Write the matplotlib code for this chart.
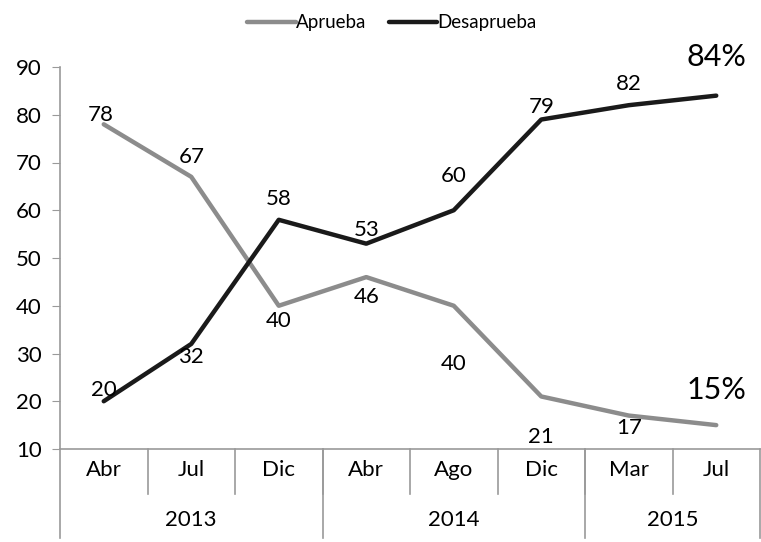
import matplotlib.pyplot as plt
import matplotlib.transforms as mtransforms

plt.rcParams['font.family'] = ['Lato', 'DejaVu Sans']

# Data
months = ['Abr', 'Jul', 'Dic', 'Abr', 'Ago', 'Dic', 'Mar', 'Jul']
years = ['2013', '2014', '2015']
year_counts = [3, 3, 2]
aprueba = [78, 67, 40, 46, 40, 21, 17, 15]
desaprueba = [20, 32, 58, 53, 60, 79, 82, 84]

# label offsets in pixels (dy), style only
ap_dy = [9, 20, -15, -20, -58, -41, -12, 35]
de_dy = [11, -13, 21, 14, 34, 13, 21, 39]

gray = '#8c8c8c'
black = '#1a1a1a'
axis_gray = '#9a9a9a'
fs_main = 16

fig = plt.figure(figsize=(7.61, 5.42), dpi=100)
ax = fig.add_axes([60 / 761, 93 / 542, 700 / 761, 382 / 542])

x = list(range(len(months)))
ax.plot(x, aprueba, color=gray, lw=3.2, solid_capstyle='round', label='Aprueba')
ax.plot(x, desaprueba, color=black, lw=3.2, solid_capstyle='round', label='Desaprueba')

ax.set_xlim(-0.5, len(months) - 0.5)
ax.set_ylim(10, 90)
ax.set_yticks(range(10, 91, 10))
ax.tick_params(axis='y', labelsize=fs_main, length=6, color=axis_gray, pad=7)
ax.set_xticks([])
for s in ['top', 'right']:
    ax.spines[s].set_visible(False)
for s in ['left', 'bottom']:
    ax.spines[s].set_color(axis_gray)
    ax.spines[s].set_linewidth(1.2)

# data labels
n = len(months)
for i in range(n):
    last = i == n - 1
    fs = 22 if last else fs_main
    txt = str(aprueba[i]) + ('%' if last else '')
    ax.annotate(txt, (i, aprueba[i]), xytext=(-3 if i == 0 else 0, ap_dy[i]),
                textcoords='offset pixels', ha='center', va='center', fontsize=fs)
    txt = str(desaprueba[i]) + ('%' if last else '')
    ax.annotate(txt, (i, desaprueba[i]), xytext=(0, de_dy[i]),
                textcoords='offset pixels', ha='center', va='center', fontsize=fs)

# two-level category axis
trans = mtransforms.blended_transform_factory(ax.transData, ax.transAxes)
for i in range(1, n):
    ax.plot([i - 0.5, i - 0.5], [0, -0.118], transform=trans, color=axis_gray,
            lw=1.2, clip_on=False)
for i, m in enumerate(months):
    ax.text(i, -0.055, m, transform=trans, ha='center', va='center', fontsize=fs_main)

start = 0
bounds = [-0.5]
for y, c in zip(years, year_counts):
    ax.text(start + (c - 1) / 2, -0.186, y, transform=trans, ha='center',
            va='center', fontsize=fs_main)
    start += c
    bounds.append(start - 0.5)
for b in bounds:
    ax.plot([b, b], [0, -0.233], transform=trans, color=axis_gray, lw=1.2,
            clip_on=False)

fig.legend(loc='upper center', bbox_to_anchor=(0.515, 1.005), ncol=2, frameon=False,
           fontsize=13.5, handlelength=2.6, handletextpad=0.0, columnspacing=1.2)

fig.savefig('out.png', dpi=100)
